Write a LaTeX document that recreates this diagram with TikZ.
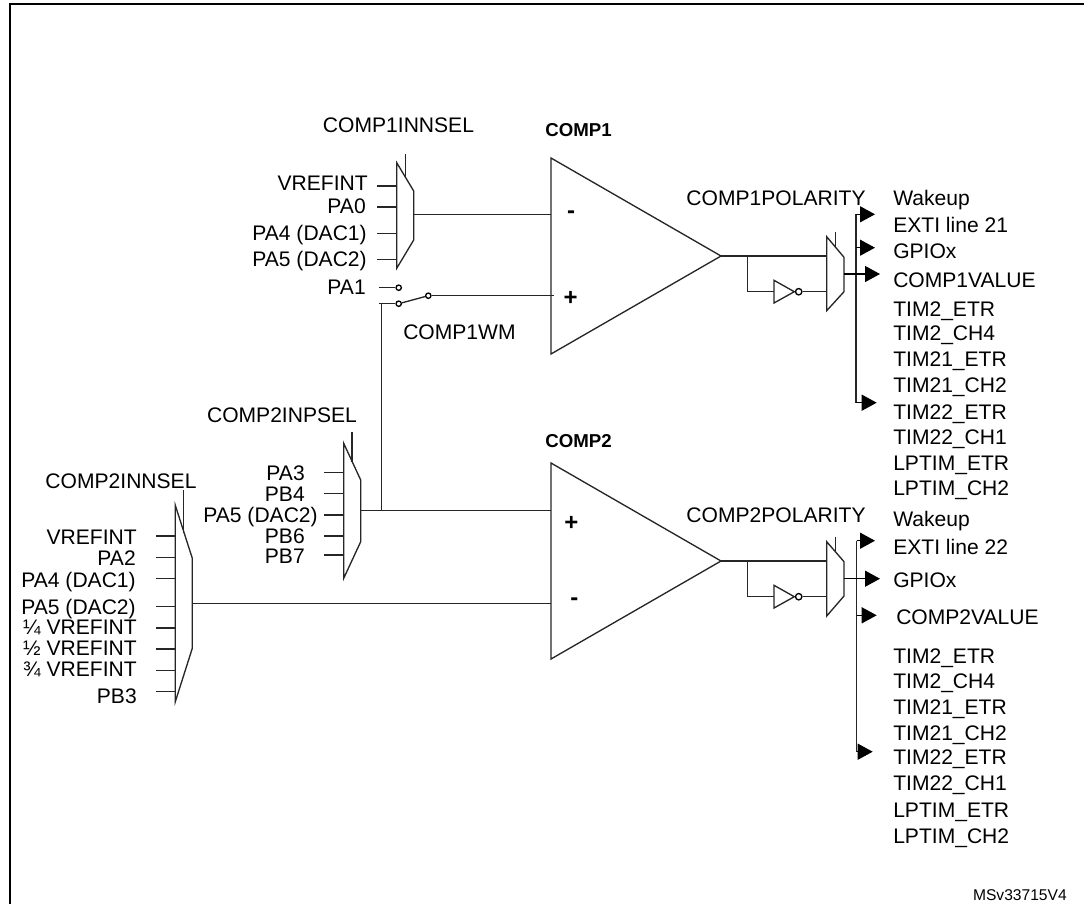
\documentclass[tikz,border=0pt]{standalone}
\usepackage{fontspec}
\setmainfont{Liberation Sans}
\usetikzlibrary{arrows.meta}
\tikzset{
  wire/.style={line width=1pt,black!85},
  shapeline/.style={line width=1pt,black!85,line join=miter},
  frameline/.style={line width=1.6pt,black},
  arrowwire/.style={line width=1pt,black,-{Triangle[length=11.25pt,width=12pt]}},
  lab/.style={inner sep=0pt,font=\fontsize{15.8}{15.8}\selectfont,yshift=-2.7pt},
  labr/.style={lab,anchor=mid east},
  labl/.style={lab,anchor=mid west},
  labc/.style={lab,anchor=mid},
  boldlab/.style={labl,font=\fontsize{14}{14}\selectfont\bfseries},
  sign/.style={labc,font=\fontsize{18}{18}\selectfont\bfseries,anchor=center,yshift=0pt},
  contact/.style={circle,draw,line width=1pt,fill=white,minimum size=4pt,inner sep=0pt},
  bubble/.style={circle,draw,line width=1pt,fill=white,minimum size=4.8pt,inner sep=0pt},
}
% \stubw{name}{x0}{x1}{y}: horizontal wire between two named points
\newcommand{\stubw}[4]{\coordinate (#1a) at (#2,#4);\coordinate (#1b) at (#3,#4);\draw[wire] (#1a) -- (#1b);}
% \arrw{name}{x0}{x1}{y}: horizontal arrow between two named points
\newcommand{\arrw}[4]{\coordinate (#1a) at (#2,#4);\coordinate (#1b) at (#3,#4);\draw[arrowwire] (#1a) -- (#1b);}
% \muxshape{name}{xl}{xr}{y1}{y2}{y3}{y4}{xsel}{ysel1}
\newcommand{\muxshape}[9]{%
  \coordinate (#1nw) at (#2,#4);\coordinate (#1ne) at (#3,#5);
  \coordinate (#1se) at (#3,#6);\coordinate (#1sw) at (#2,#7);
  \coordinate (#1sa) at (#8,#9);
  \draw[shapeline] (#1nw) -- (#1ne) -- (#1se) -- (#1sw) -- cycle;}
\begin{document}
\begin{tikzpicture}[x=0.75pt,y=-0.75pt]
\useasboundingbox (0,0) rectangle (1084,904);
% frame
\coordinate (fsw) at (10,904);\coordinate (fnw) at (10,4);
\coordinate (fne) at (1084,4);
\draw[frameline] (fsw) -- (fnw) -- (fne);

% ---------- COMP1 ----------
\coordinate (t1a) at (551,158);\coordinate (t1b) at (721,256);\coordinate (t1c) at (551,354);
\draw[shapeline] (t1a) -- (t1b) -- (t1c) -- cycle;
\node[boldlab] (c1t) at (545,129) {COMP1};
\node[sign] (c1m) at (571,211) {-};
\node[sign] (c1p) at (570.7,294.5) {+};

\muxshape{ma}{396.7}{413.7}{162.7}{191}{240}{268.3}{405.3}{154}
\coordinate (maS) at (405.3,177);\draw[wire] (masa) -- (maS);
\node[labc] (masel) at (398.5,125) {COMP1INNSEL};
\node[labr] (la1) at (368,183) {VREFINT};\stubw{sa1}{377.3}{396.7}{186}
\node[labr] (la2) at (366,206) {PA0};\stubw{sa2}{377.3}{396.7}{207}
\node[labr] (la3) at (367,233) {PA4 (DAC1)};\stubw{sa3}{377.3}{396.7}{233.3}
\node[labr] (la4) at (367,259) {PA5 (DAC2)};\stubw{sa4}{377.3}{396.7}{259.3}
\stubw{oa}{413.7}{551}{214.3}

% switch
\node[labr] (lpa1) at (366,287) {PA1};
\node[contact] (sw1) at (398.7,287.7) {};
\node[contact] (sw2) at (398.7,303.7) {};
\node[contact] (sw3) at (428.3,295.7) {};
\coordinate (pa1f) at (378.7,287.7);
\coordinate (swf) at (378.7,303.7);
\coordinate (plus1) at (554,295.7);
\draw[wire] (pa1f) -- (sw1);
\draw[wire] (swf) -- (sw2);
\draw[wire] (sw2) -- (sw3);
\draw[wire] (sw3) -- (plus1);
\node[labl] (lwm) at (403,332) {COMP1WM};

% COMP1 polarity
\coordinate (in1) at (826.7,256);\draw[wire] (t1b) -- (in1);
\coordinate (br1) at (747.7,256);\coordinate (br1d) at (747.7,291.7);
\coordinate (ia) at (774,280.3);\coordinate (ib) at (794.3,291.7);\coordinate (ic) at (774,303);
\coordinate (ii) at (774,291.7);
\draw[wire] (br1) -- (br1d) -- (ii);
\draw[shapeline] (ia) -- (ib) -- (ic) -- cycle;
\node[bubble] (bub1) at (798.7,291.7) {};
\coordinate (in1b) at (826.7,291.7);\draw[wire] (bub1) -- (in1b);
\muxshape{mp}{826.7}{844}{236.7}{257.3}{291.7}{310.7}{835.7}{231.7}
\coordinate (mpS) at (835.7,247);\draw[wire] (mpsa) -- (mpS);
\node[labc] (lpol1) at (776,198) {COMP1POLARITY};
\coordinate (bus1t) at (856,214.3);\coordinate (bus1b) at (856,402.7);
\draw[wire] (bus1t) -- (bus1b);
\arrw{aa1}{856}{875}{214.3}
\arrw{aa2}{856}{875}{247.7}
\arrw{aa3}{844}{880}{274}
\arrw{aa4}{856}{876.7}{402.7}
\node[labl] (r1) at (893,198) {Wakeup};
\node[labl] (r2) at (893,225) {EXTI line 21};
\node[labl] (r3) at (893,251) {GPIOx};
\node[labl] (r4) at (893,280) {COMP1VALUE};
\node[labl] (r5) at (893,309) {TIM2\_ETR};
\node[labl] (r6) at (893,333) {TIM2\_CH4};
\node[labl] (r7) at (893,359) {TIM21\_ETR};
\node[labl] (r8) at (893,385) {TIM21\_CH2};
\node[labl] (r9) at (893,412) {TIM22\_ETR};
\node[labl] (r10) at (893,437) {TIM22\_CH1};
\node[labl] (r11) at (893,463) {LPTIM\_ETR};
\node[labl] (r12) at (893,488) {LPTIM\_CH2};

% ---------- COMP2 ----------
\coordinate (t2a) at (551,463);\coordinate (t2b) at (721,561);\coordinate (t2c) at (551,659);
\draw[shapeline] (t2a) -- (t2b) -- (t2c) -- cycle;
\node[boldlab] (c2t) at (545,440) {COMP2};
\node[sign] (c2p) at (571.3,520) {+};
\node[sign] (c2m) at (574.3,598) {-};

% COMP2INPSEL
\muxshape{mb}{343.7}{360.7}{443.3}{480}{541.7}{578.3}{352}{432.3}
\coordinate (mbS) at (352,462);\draw[wire] (mbsa) -- (mbS);
\node[labc] (mbsel) at (282,415) {COMP2INPSEL};
\node[labr] (lb1) at (305,473) {PA3};\stubw{sb1}{324.3}{343.7}{472.3}
\node[labr] (lb2) at (305,494) {PB4};\stubw{sb2}{324.3}{343.7}{493.7}
\node[labr] (lb3) at (318,515) {PA5 (DAC2)};\stubw{sb3}{324.3}{343.7}{515}
\node[labr] (lb4) at (305,536) {PB6};\stubw{sb4}{324.3}{343.7}{536}
\node[labr] (lb5) at (305,556) {PB7};\stubw{sb5}{324.3}{343.7}{555}
\stubw{ob}{360.7}{551}{510.5}
\coordinate (vb) at (381.3,510.5);\coordinate (vt) at (381.3,303.7);
\draw[wire] (vb) -- (vt);

% COMP2INNSEL
\muxshape{mc}{175.3}{192.3}{505.3}{558.3}{648.3}{701.7}{183.7}{490}
\coordinate (mcS) at (183.7,533);\draw[wire] (mcsa) -- (mcS);
\node[labc] (mcsel) at (121,481) {COMP2INNSEL};
\node[labr] (lc1) at (137,537) {VREFINT};\stubw{sc1}{156}{175.3}{536}
\node[labr] (lc2) at (136,558) {PA2};\stubw{sc2}{156}{175.3}{557.3}
\node[labr] (lc3) at (136,580) {PA4 (DAC1)};\stubw{sc3}{156}{175.3}{578.7}
\node[labr] (lc4) at (136,607) {PA5 (DAC2)};\stubw{sc4}{156}{175.3}{606.7}
\node[labr] (lc5) at (137,627) {¼ VREFINT};\stubw{sc5}{156}{175.3}{628}
\node[labr] (lc6) at (137,648) {½ VREFINT};\stubw{sc6}{156}{175.3}{649}
\node[labr] (lc7) at (137,669) {¾ VREFINT};\stubw{sc7}{156}{175.3}{670.3}
\node[labr] (lc8) at (137,696) {PB3};\stubw{sc8}{156}{175.3}{691.7}
\stubw{oc}{192.3}{551}{603.5}

% COMP2 polarity
\coordinate (in2) at (826.7,561);\draw[wire] (t2b) -- (in2);
\coordinate (br2) at (747.7,561);\coordinate (br2d) at (747.7,596.7);
\coordinate (ja) at (774,585.3);\coordinate (jb) at (794.3,596.7);\coordinate (jc) at (774,608);
\coordinate (ji) at (774,596.7);
\draw[wire] (br2) -- (br2d) -- (ji);
\draw[shapeline] (ja) -- (jb) -- (jc) -- cycle;
\node[bubble] (bub2) at (798.7,596.7) {};
\coordinate (in2b) at (826.7,596.7);\draw[wire] (bub2) -- (in2b);
\muxshape{mq}{826.7}{844}{541.7}{561.7}{596}{616}{835.7}{536.7}
\coordinate (mqS) at (835.7,552);\draw[wire] (mqsa) -- (mqS);
\node[labc] (lpol2) at (776,515) {COMP2POLARITY};
\coordinate (bus2t) at (856.7,540.7);\coordinate (bus2b) at (856.7,751.7);
\draw[wire] (bus2t) -- (bus2b);
\arrw{ab1}{856.7}{875}{540.7}
\arrw{ab2}{844}{880}{578.7}
\arrw{ab3}{856.7}{876.7}{615.3}
\arrw{ab4}{856.7}{872.7}{751.7}
\node[labl] (q1) at (893,519) {Wakeup};
\node[labl] (q2) at (893,547) {EXTI line 22};
\node[labl] (q3) at (893,580) {GPIOx};
\node[labl] (q4) at (896,617) {COMP2VALUE};
\node[labl] (q5) at (893,656) {TIM2\_ETR};
\node[labl] (q6) at (893,681) {TIM2\_CH4};
\node[labl] (q7) at (893,707) {TIM21\_ETR};
\node[labl] (q8) at (893,733) {TIM21\_CH2};
\node[labl] (q9) at (893,757) {TIM22\_ETR};
\node[labl] (q10) at (893,783) {TIM22\_CH1};
\node[labl] (q11) at (893,810) {LPTIM\_ETR};
\node[labl] (q12) at (893,836) {LPTIM\_CH2};

\node[labr,font=\fontsize{11.7}{11.7}\selectfont] (ver) at (1067,893) {MSv33715V4};
\end{tikzpicture}
\end{document}
